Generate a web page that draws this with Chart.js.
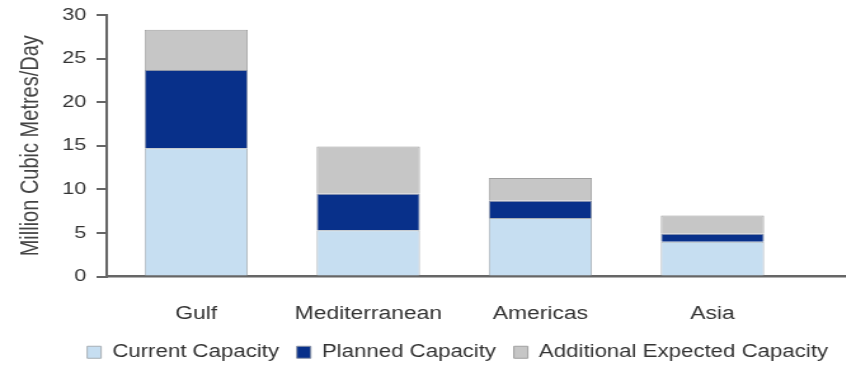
<!DOCTYPE html>
<html>
<head>
<meta charset="utf-8">
<script src="https://cdn.jsdelivr.net/npm/chart.js@4.4.1/dist/chart.umd.min.js"></script>
<style>
  html, body { margin: 0; padding: 0; background: #fff; overflow: hidden; }
  /* the whole chart is drawn narrow and widened, so text and marks come out broad */
  #wrap { width: 666px; height: 367px; transform: scaleX(1.27); transform-origin: 0 0; }
</style>
</head>
<body>
<div id="wrap"><canvas id="chart" width="666" height="367"></canvas></div>
<script>
const categories = ['Gulf', 'Mediterranean', 'Americas', 'Asia'];
const currentCapacity = [14.7, 5.3, 6.7, 4.0];
const plannedCapacity = [9.0, 4.2, 2.0, 0.9];
const additionalCapacity = [4.6, 5.4, 2.6, 2.1];
const yTicks = [0, 5, 10, 15, 20, 25, 30];

const toPoints = (arr) => arr.map((v, i) => ({ x: i, y: v }));
const font = 'Liberation Sans, Arial, sans-serif';

const ctx = document.getElementById('chart').getContext('2d');
new Chart(ctx, {
  type: 'bar',
  data: {
    datasets: [
      {
        label: 'Current Capacity',
        data: toPoints(currentCapacity),
        backgroundColor: '#c6def1',
        borderColor: '#a7aeb4',
        borderWidth: 1
      },
      {
        label: 'Planned Capacity',
        data: toPoints(plannedCapacity),
        backgroundColor: '#08308a',
        borderColor: '#8b93a6',
        borderWidth: 1
      },
      {
        label: 'Additional Expected Capacity',
        data: toPoints(additionalCapacity),
        backgroundColor: '#c6c6c6',
        borderColor: '#a0a0a0',
        borderWidth: 1
      }
    ]
  },
  options: {
    responsive: false,
    devicePixelRatio: 1,
    animation: false,
    layout: { padding: { top: 9, right: 0, left: 0, bottom: -4 } },
    datasets: {
      bar: { barPercentage: 0.6, categoryPercentage: 1 }
    },
    plugins: {
      tooltip: { enabled: false },
      legend: {
        position: 'bottom',
        align: 'end',
        labels: {
          boxWidth: 11,
          boxHeight: 12,
          padding: 14,
          color: '#333',
          font: { family: font, size: 17.5 }
        }
      }
    },
    scales: {
      x: {
        type: 'linear',
        stacked: true,
        offset: false,
        min: -0.52,
        max: 3.775,
        afterBuildTicks: (scale) => {
          scale.ticks = categories.map((_, i) => ({ value: i }));
        },
        afterFit: (scale) => { scale.height = 53; },
        grid: { offset: false, drawOnChartArea: false, drawTicks: false },
        border: { color: '#666', width: 2.5 },
        ticks: {
          autoSkip: false,
          maxRotation: 0,
          padding: 27,
          color: '#333',
          font: { family: font, size: 18 },
          callback: (v) => categories[v]
        }
      },
      y: {
        stacked: true,
        min: 0,
        max: 30,
        afterBuildTicks: (scale) => {
          scale.ticks = yTicks.map((v) => ({ value: v }));
        },
        afterFit: (scale) => { scale.width = 84; },
        grid: { drawOnChartArea: false, drawTicks: true, tickLength: 8, color: '#666', lineWidth: 2 },
        border: { color: '#666', width: 2 },
        ticks: {
          padding: 8,
          color: '#333',
          font: { family: font, size: 17, lineHeight: 0.82 }
        },
        title: {
          display: true,
          text: 'Million Cubic Metres/Day',
          color: '#444',
          padding: { top: 12, bottom: 0 },
          font: { family: font, size: 20 }
        }
      }
    }
  }
});
</script>
</body>
</html>
